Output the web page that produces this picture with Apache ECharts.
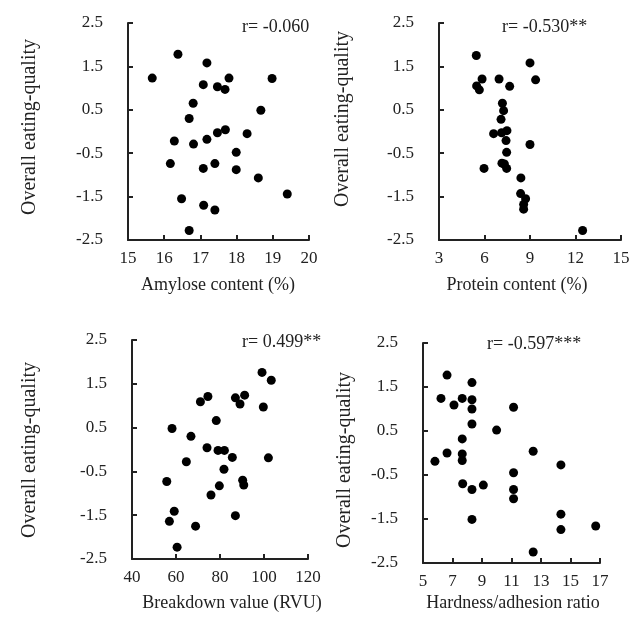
<!DOCTYPE html>
<html>
<head>
    <meta charset="UTF-8">
    <title>eating quality</title>
    <script src="https://cdn.jsdelivr.net/npm/echarts@6/dist/echarts.min.js"></script>
    <style>
        *{margin:0;padding:0}
        html,body{width:100%;height:100%;background:#fff}
        #main{width:638px;height:632px}
    </style>
</head>
<body>
<div id="main"></div>
<script type="text/javascript">
    // 直链淀粉 vs 综合食味
    var amyloseX = [15.67,16.38,17.18,17.79,17.08,17.47,17.68,18.98,16.80,18.67,16.69,17.69,17.47,18.29,16.28,17.18,16.81,17.99,16.17,17.08,17.40,17.99,18.60,19.40,16.48,17.09,17.40,16.69];
    var amyloseY = [1.23,1.78,1.58,1.23,1.08,1.03,0.97,1.22,0.65,0.49,0.30,0.04,-0.03,-0.05,-0.22,-0.18,-0.29,-0.48,-0.74,-0.85,-0.74,-0.88,-1.07,-1.44,-1.55,-1.70,-1.81,-2.28];
    // 蛋白质
    var proteinX = [5.46,9.00,5.84,6.96,9.37,5.48,5.66,7.66,7.18,7.26,7.09,6.60,7.13,7.48,7.42,9.00,7.46,7.15,7.31,7.46,5.97,8.40,8.38,8.71,8.58,8.58,12.47];
    var proteinY = [1.75,1.58,1.21,1.21,1.19,1.05,0.96,1.04,0.65,0.48,0.28,-0.05,-0.03,0.02,-0.21,-0.30,-0.48,-0.73,-0.75,-0.85,-0.85,-1.07,-1.43,-1.55,-1.68,-1.79,-2.28];
    // 崩解值
    var breakdownX = [99.1,103.3,74.5,71.1,87.0,91.2,89.1,99.7,78.3,58.2,66.8,74.1,79.1,82.0,85.6,102.0,64.7,81.8,55.8,79.7,90.3,90.8,75.9,59.2,57.0,87.0,68.9,60.5];
    var breakdownY = [1.76,1.58,1.21,1.09,1.18,1.24,1.04,0.97,0.66,0.48,0.30,0.04,-0.02,-0.02,-0.18,-0.19,-0.28,-0.45,-0.73,-0.83,-0.70,-0.81,-1.04,-1.41,-1.64,-1.51,-1.75,-2.23];
    // 硬度/黏性
    var hardnessX = [6.63,8.32,6.22,7.66,8.32,7.10,8.32,11.14,8.32,9.99,7.66,6.63,7.66,7.66,5.81,12.47,14.35,11.14,7.69,9.09,8.32,11.14,11.14,8.32,14.35,14.35,16.71,12.47];
    var hardnessY = [1.77,1.60,1.24,1.24,1.21,1.09,1.00,1.04,0.66,0.52,0.32,0.00,-0.02,-0.17,-0.19,0.04,-0.27,-0.45,-0.70,-0.73,-0.83,-0.83,-1.04,-1.51,-1.39,-1.74,-1.66,-2.25];

    var xTitles = ['Amylose content (%)', 'Protein content (%)', 'Breakdown value (RVU)', 'Hardness/adhesion ratio'];
    var rTexts = ['r= -0.060', 'r= -0.530**', 'r= 0.499**', 'r= -0.597***'];
    var yTitle = 'Overall eating-quality';
    var xRanges = [[15, 20, 1], [3, 15, 3], [40, 120, 20], [5, 17, 2]];

    var font = '"Liberation Serif", "DejaVu Serif", serif';
    var ink = '#222';

    function pairs(xs, ys) {
        var out = [];
        for (var i = 0; i < xs.length; i++) out.push([xs[i], ys[i]]);
        return out;
    }

    var grids = [
        {left: 128, top: 23, width: 181, height: 217},
        {left: 439, top: 23, width: 182, height: 217},
        {left: 132, top: 340, width: 176, height: 219},
        {left: 423, top: 343, width: 177, height: 220}
    ];

    var axisLine = {onZero: false, lineStyle: {color: ink, width: 2}};
    var axisTick = {inside: true, length: 5, lineStyle: {color: ink, width: 2}};

    var xAxes = [], yAxes = [];
    for (var i = 0; i < 4; i++) {
        xAxes.push({
            type: 'value', gridIndex: i,
            min: xRanges[i][0], max: xRanges[i][1], interval: xRanges[i][2],
            axisLine: axisLine, axisTick: axisTick, splitLine: {show: false},
            axisLabel: {color: ink, fontFamily: font, fontSize: 17, margin: 10}
        });
        yAxes.push({
            type: 'value', gridIndex: i,
            min: -2.5, max: 2.5, interval: 1,
            axisLine: axisLine, axisTick: axisTick, splitLine: {show: false},
            axisLabel: {color: ink, fontFamily: font, fontSize: 17, margin: 25}
        });
    }

    var allData = [
        pairs(amyloseX, amyloseY),
        pairs(proteinX, proteinY),
        pairs(breakdownX, breakdownY),
        pairs(hardnessX, hardnessY)
    ];
    var series = allData.map(function (d, i) {
        return {
            type: 'scatter', xAxisIndex: i, yAxisIndex: i,
            symbolSize: 9, itemStyle: {color: '#000', opacity: 1}, data: d
        };
    });

    // 标题和相关系数的位置
    var xTitlePos = [[218, 285], [517, 285], [232, 603], [513, 603]];
    var yTitlePos = [[30, 127], [343, 119], [30, 450], [345, 460]];
    var rPos = [[242, 27], [502, 27], [242, 342], [487, 344]];

    var graphics = [];
    for (var k = 0; k < 4; k++) {
        graphics.push({
            type: 'text', x: xTitlePos[k][0], y: xTitlePos[k][1],
            style: {text: xTitles[k], fill: ink, font: '18px ' + font, textAlign: 'center', textVerticalAlign: 'middle'}
        });
        graphics.push({
            type: 'text', x: yTitlePos[k][0], y: yTitlePos[k][1], rotation: Math.PI / 2,
            style: {text: yTitle, fill: ink, font: '20px ' + font, textAlign: 'center', textVerticalAlign: 'middle'}
        });
        graphics.push({
            type: 'text', x: rPos[k][0], y: rPos[k][1],
            style: {text: rTexts[k], fill: ink, font: '18px ' + font, textAlign: 'left', textVerticalAlign: 'middle'}
        });
    }

    var myChart = echarts.init(document.getElementById('main'));
    myChart.setOption({
        animation: false,
        grid: grids,
        xAxis: xAxes,
        yAxis: yAxes,
        series: series,
        graphic: graphics
    });
</script>
</body>
</html>
